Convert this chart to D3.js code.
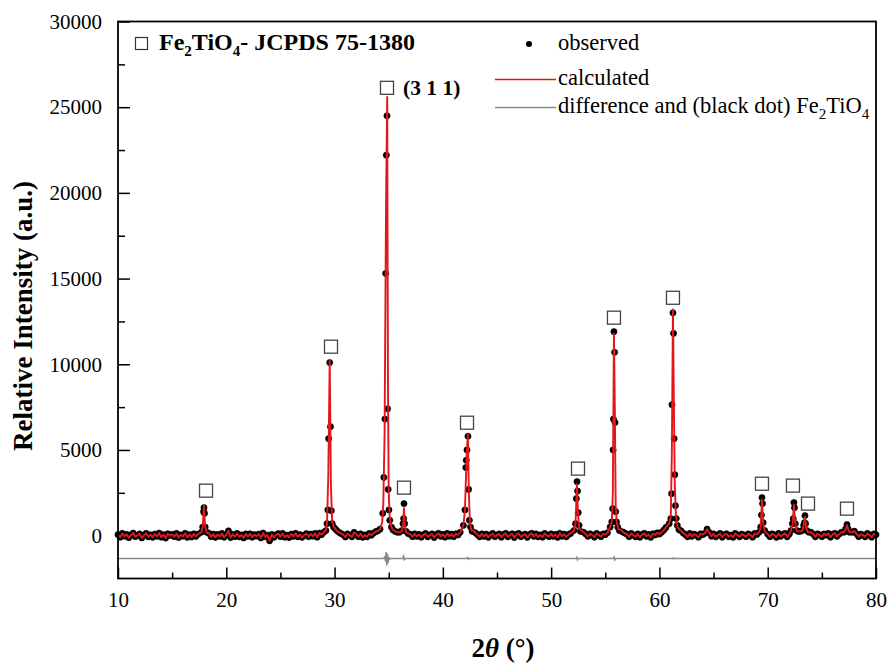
<!DOCTYPE html>
<html>
<head>
<meta charset="utf-8">
<title>Fe2TiO4 XRD</title>
<script src="https://cdn.jsdelivr.net/npm/d3@7"></script>
<style>
    body { margin: 0; background: #fff; }
    text { font-family: "Liberation Serif", "Times New Roman", serif; fill: #000; }
</style>
</head>
<body>
<div id="chart"></div>
<script>
var w = 890, h = 663,
    padL = 118, padR = 876, padT = 21.5, padB = 578.5;

var xTicks = [10, 20, 30, 40, 50, 60, 70, 80],
    xMinor = [15, 25, 35, 45, 55, 65, 75],
    yTicks = [0, 5000, 10000, 15000, 20000, 25000, 30000],
    yMinor = [2500, 7500, 12500, 17500, 22500, 27500];

// observed background, one value every 0.2 deg from 10 to 80
var bgStart = 10, bgStep = 0.2;
var bgObs = [
    60, -90, 130, -30, 80,      // 10
    -120, 40, 150, -60, 20,     // 11
    100, -130, 30, 140, -70,    // 12
    50, -100, 90, -40, 150,     // 13
    -90, 60, -140, 110, 10,     // 14
    80, -60, 130, -110, 40,     // 15
    -30, 140, -100, 60, -80,    // 16
    110, -40, 90, -120, 160,    // 17
    600, 250, 140, -60, 90,     // 18
    -100, 70, -40, 130, -90,    // 19
    60, 280, -110, 80, -60,     // 20
    130, -70, 40, -130, 100,    // 21
    -40, 110, -90, 60, -30,     // 22
    90, -130, 150, -60, 30,     // 23
    -300, 70, -100, 40, 120,    // 24
    -60, 130, -90, 30, -110,    // 25
    90, -40, 140, -70, 60,      // 26
    -100, 30, 120, -60, 90,     // 27
    -30, 130, -90, 150, 60,     // 28
    200, 350, 400, 500, 600,    // 29
    450, 300, 200, 120, 60,     // 30
    -80, 100, 30, -70, 190,     // 31
    90, -60, 110, -100, 40,     // 32
    -70, 130, 30, 150, 230,     // 33
    280, 380, 550, 900, 1500,   // 34
    600, 420, 330, 250, 200,    // 35
    200, 180, 300, 150, 120,    // 36
    80, -60, 110, -40, 70,      // 37
    -90, 40, 130, -70, 30,      // 38
    100, -110, 60, 140, -40,    // 39
    70, -90, 130, -30, 90,      // 40
    -60, 110, 40, 200, 350,     // 41
    700, 600, 500, 400, 300,    // 42
    170, 60, -70, 110, -40,     // 43
    90, -100, 40, 130, -60,     // 44
    30, 100, -90, 60, 140,      // 45
    -70, 40, 110, -110, 70,     // 46
    130, -60, 30, 90, -100,     // 47
    60, 140, -40, 100, -70,     // 48
    40, -90, 130, 30, -60,      // 49
    110, -40, 70, -100, 140,    // 50
    -30, 90, -70, 60, 130,      // 51
    200, 300, 400, 400, 300,    // 52
    200, 90, -40, 110, 30,      // 53
    -90, 130, 40, -60, 100,     // 54
    60, 170, 300, 450, 700,     // 55
    700, 550, 350, 220, 150,    // 56
    90, -60, 130, 30, -70,      // 57
    100, -90, 60, 140, -40,     // 58
    70, -100, 110, 40, 170,     // 59
    90, 200, 320, 480, 700,     // 60
    1000, 900, 800, 600, 400,   // 61
    280, 150, 60, -70, 130,     // 62
    -40, 90, 30, -90, 110,      // 63
    60, 140, 380, 180, -30,     // 64
    100, -70, 40, 130, -90,     // 65
    60, 110, -60, 30, -100,     // 66
    130, 40, -70, 90, 30,       // 67
    -60, 100, 40, -90, 130,     // 68
    70, 200, 300, 300, 250,     // 69
    90, -60, 110, 40, -100,     // 70
    130, -40, 60, 140, -70,     // 71
    90, 200, 300, 300, 250,     // 72
    250, 350, 300, 300, 200,    // 73
    200, 90, -70, 110, 40,      // 74
    -60, 100, 30, 130, -90,     // 75
    70, 140, -40, 90, 200,      // 76
    280, 300, 300, 250, 200,    // 77
    260, 110, -60, 90, 30,      // 78
    -70, 130, 40, -90, 100,     // 79
    60                          // 80
];

// observed points on the reflections [2theta, intensity]
var obsPeaks = [
    [17.7, 200], [17.82, 500], [17.9, 1400], [17.94, 1630], [17.99, 1300], [18.05, 500], [18.2, 200],
    [29.2, 300], [29.3, 700], [29.38, 1500], [29.45, 5660], [29.55, 10100], [29.62, 6360], [29.7, 1460], [29.78, 700], [29.9, 500], [30.05, 400],
    [34.45, 1300], [34.55, 3400], [34.65, 6800], [34.72, 15300], [34.78, 22200], [34.84, 24500], [34.9, 7400], [34.95, 2700], [35.02, 1500], [35.1, 900], [35.25, 500],
    [36.2, 300], [36.32, 700], [36.38, 1000], [36.41, 1870], [36.47, 700], [36.6, 250],
    [41.9, 600], [42.04, 1500], [42.12, 3970], [42.16, 4400], [42.23, 5000], [42.32, 5800], [42.38, 2700], [42.45, 900], [42.55, 500], [42.7, 250],
    [52.1, 300], [52.25, 700], [52.33, 2160], [52.39, 3150], [52.44, 2600], [52.5, 1340], [52.58, 600], [52.7, 250],
    [55.45, 500], [55.6, 800], [55.68, 1575], [55.72, 5000], [55.75, 6800], [55.8, 11900], [55.86, 10700], [55.9, 6600], [55.96, 1400], [56.03, 800], [56.15, 500], [56.3, 300],
    [60.9, 700], [61.05, 990], [61.12, 2450], [61.16, 7640], [61.25, 13000], [61.3, 11800], [61.36, 5660], [61.42, 3560], [61.48, 1750], [61.55, 1000], [61.65, 600], [61.8, 350],
    [69.2, 200], [69.35, 500], [69.42, 1200], [69.47, 2220], [69.52, 1870], [69.58, 760], [69.72, 300],
    [72.15, 300], [72.28, 700], [72.36, 990], [72.42, 1930], [72.47, 1630], [72.55, 700], [72.68, 300],
    [73.2, 300], [73.32, 600], [73.4, 760], [73.44, 1170], [73.5, 700], [73.62, 300],
    [77.05, 200], [77.2, 400], [77.32, 650], [77.42, 400], [77.55, 200]
];

// calculated profile on the reflections
var calcPeaks = [
    [17.7, 200], [17.82, 500], [17.94, 1750], [18.03, 600], [18.2, 150],
    [29.2, 300], [29.3, 700], [29.42, 3500], [29.55, 10200], [29.66, 3000], [29.78, 800], [29.95, 500],
    [34.4, 800], [34.5, 1800], [34.62, 6000], [34.75, 19000], [34.86, 25600], [34.93, 9000], [35.0, 2500], [35.1, 1000], [35.25, 500],
    [36.2, 250], [36.33, 600], [36.41, 1600], [36.5, 500], [36.62, 200],
    [41.9, 600], [42.04, 1500], [42.2, 4700], [42.31, 5900], [42.4, 2500], [42.5, 700], [42.65, 300],
    [52.1, 300], [52.25, 700], [52.38, 3000], [52.48, 1300], [52.6, 400],
    [55.45, 500], [55.6, 800], [55.7, 2500], [55.8, 11800], [55.88, 7500], [55.96, 1800], [56.05, 800], [56.2, 400],
    [60.9, 700], [61.05, 1100], [61.15, 5000], [61.25, 13200], [61.33, 8000], [61.42, 3000], [61.52, 1200], [61.68, 500],
    [69.2, 200], [69.35, 500], [69.47, 2100], [69.57, 800], [69.72, 250],
    [72.15, 300], [72.3, 700], [72.42, 1800], [72.52, 800], [72.68, 300],
    [73.2, 300], [73.32, 600], [73.44, 1100], [73.55, 450], [73.7, 200],
    [77.05, 200], [77.2, 400], [77.32, 620], [77.44, 350], [77.58, 200]
];

// difference curve (offset)
var diffPts = [
    [10, -1330], [34.5, -1330], [34.62, -1250], [34.7, -1500], [34.76, -950], [34.82, -1750], [34.88, -1050],
    [34.94, -1600], [35.0, -1250], [35.08, -1380], [35.2, -1330], [36.3, -1330], [36.38, -1200], [36.44, -1450],
    [36.5, -1330], [42.2, -1330], [42.3, -1280], [42.36, -1380], [42.45, -1330], [52.3, -1330], [52.38, -1260],
    [52.44, -1400], [52.5, -1330], [55.75, -1330], [55.82, -1250], [55.88, -1410], [55.95, -1330], [61.2, -1330],
    [61.28, -1300], [61.34, -1360], [61.4, -1330], [80, -1330]
];

// Fe2TiO4 reflection markers
var marks = [
    [18.13, 2625], [29.67, 11025], [34.84, 26130], [36.41, 2800], [42.23, 6590], [52.48, 3910],
    [55.8, 12720], [61.25, 13880], [69.47, 3030], [72.33, 2920], [73.72, 1870], [77.32, 1575]
];

var bgPts = bgObs.map(function(v, i){ return [bgStart + i * bgStep, v]; });

function merge(peaks){
    var keep = bgPts.filter(function(p){
        return !peaks.some(function(q){ return Math.abs(q[0] - p[0]) < 0.12; });
    });
    return keep.concat(peaks).sort(function(a, b){ return a[0] - b[0]; });
}
var observed = merge(obsPeaks),
    calculated = merge(calcPeaks);

var x = d3.scaleLinear().domain([10, 80]).range([padL, padR]);
var y = d3.scaleLinear().domain([-2500, 30000]).range([padB, padT]);
var line = d3.line().x(function(d){ return x(d[0]); }).y(function(d){ return y(d[1]); });

var svg = d3.select('#chart').append('svg').attr('width', w).attr('height', h);

// axes
svg.append('g').attr('transform', 'translate(0,' + padB + ')')
    .call(d3.axisBottom(x).tickValues(xTicks).tickSize(-11).tickPadding(14));
svg.append('g').attr('transform', 'translate(0,' + padB + ')')
    .call(d3.axisBottom(x).tickValues(xMinor).tickSize(-6).tickFormat(''));
svg.append('g').attr('transform', 'translate(' + padL + ',0)')
    .call(d3.axisLeft(y).tickValues(yTicks).tickSize(-12).tickPadding(16).tickFormat(d3.format('d')));
svg.append('g').attr('transform', 'translate(' + padL + ',0)')
    .call(d3.axisLeft(y).tickValues(yMinor).tickSize(-7).tickFormat(''));
svg.selectAll('.domain').remove();
svg.selectAll('.tick line').attr('stroke', '#000').attr('stroke-width', 1.5);
svg.selectAll('.tick text').attr('font-size', 21).attr('font-family', '"Liberation Serif", serif');

// difference
svg.append('path').datum(diffPts)
    .attr('fill', 'none').attr('stroke', '#8a8a8a').attr('stroke-width', 1.5)
    .attr('d', line);

// observed dots
svg.append('g').selectAll('circle')
    .data(observed)
    .enter()
    .append('circle')
    .attr('cx', function(d){ return x(d[0]); })
    .attr('cy', function(d){ return y(d[1]); })
    .attr('r', 3.1)
    .attr('fill', '#000')
    .attr('stroke', '#000').attr('stroke-width', 0.6);

// calculated line
svg.append('path').datum(calculated)
    .attr('fill', 'none').attr('stroke', '#e3161b').attr('stroke-width', 1.9)
    .attr('stroke-linejoin', 'round')
    .attr('d', line);

// markers
svg.append('g').selectAll('rect')
    .data(marks)
    .enter()
    .append('rect')
    .attr('x', function(d){ return x(d[0]) - 6.5; })
    .attr('y', function(d){ return y(d[1]) - 6.5; })
    .attr('width', 13).attr('height', 13)
    .attr('fill', 'none').attr('stroke', '#444').attr('stroke-width', 1.3);

svg.append('text')
    .attr('x', x(marks[2][0]) + 16).attr('y', y(marks[2][1]) + 7)
    .attr('font-size', 21.5).attr('font-weight', 'bold')
    .text('(3 1 1)');

// frame
svg.append('rect')
    .attr('x', padL).attr('y', padT).attr('width', padR - padL).attr('height', padB - padT)
    .attr('fill', 'none').attr('stroke', '#000').attr('stroke-width', 1.8);

// top-left legend
svg.append('rect').attr('x', 135.5).attr('y', 37.5).attr('width', 12).attr('height', 12)
    .attr('fill', 'none').attr('stroke', '#333').attr('stroke-width', 1.2);
var t1 = svg.append('text').attr('x', 159).attr('y', 50).attr('font-size', 24).attr('font-weight', 'bold');
t1.append('tspan').text('Fe');
t1.append('tspan').attr('font-size', 15).attr('dy', 6).text('2');
t1.append('tspan').attr('dy', -6).text('TiO');
t1.append('tspan').attr('font-size', 15).attr('dy', 6).text('4');
t1.append('tspan').attr('dy', -6).text('- JCPDS 75-1380');

// right legend
svg.append('circle').attr('cx', 529).attr('cy', 44).attr('r', 3).attr('fill', '#000');
svg.append('text').attr('x', 558).attr('y', 50).attr('font-size', 22.5).text('observed');
svg.append('line').attr('x1', 495).attr('x2', 556).attr('y1', 79.5).attr('y2', 79.5)
    .attr('stroke', '#e3161b').attr('stroke-width', 1.6);
svg.append('text').attr('x', 558).attr('y', 85).attr('font-size', 22.5).text('calculated');
svg.append('line').attr('x1', 495).attr('x2', 556).attr('y1', 107.5).attr('y2', 107.5)
    .attr('stroke', '#8a8a8a').attr('stroke-width', 1.5);
var t2 = svg.append('text').attr('x', 558).attr('y', 113).attr('font-size', 22.5);
t2.append('tspan').text('difference and (black dot) Fe');
t2.append('tspan').attr('font-size', 15).attr('dy', 6).text('2');
t2.append('tspan').attr('dy', -6).text('TiO');
t2.append('tspan').attr('font-size', 15).attr('dy', 6).text('4');

// axis titles
svg.append('text')
    .attr('transform', 'translate(32,316) rotate(-90)')
    .attr('text-anchor', 'middle').attr('font-size', 27).attr('font-weight', 'bold')
    .text('Relative Intensity (a.u.)');
var xt = svg.append('text').attr('x', 503).attr('y', 657)
    .attr('text-anchor', 'middle').attr('font-size', 27).attr('font-weight', 'bold');
xt.append('tspan').text('2');
xt.append('tspan').attr('font-style', 'italic').text('\u03B8');
xt.append('tspan').text(' (\u00B0)');
</script>
</body>
</html>
